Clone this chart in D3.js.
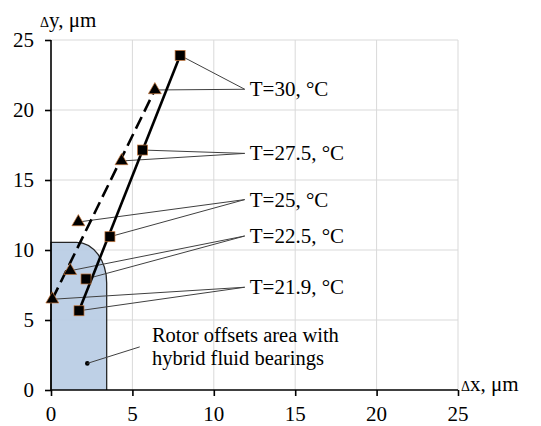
<!DOCTYPE html>
<html>
<head>
<meta charset="utf-8">
<script src="https://cdn.jsdelivr.net/npm/d3@7"></script>
<style>
  html, body { margin: 0; padding: 0; background: #fff; }
  svg { display: block; }
  text { font-family: "Liberation Serif", "Times New Roman", serif; fill: #000; }
</style>
</head>
<body>
<svg id="chart" width="541" height="426"></svg>
<script>
// ---- data ----
const xTicks = [0, 5, 10, 15, 20, 25];
const yTicks = [0, 5, 10, 15, 20, 25];

// series 1: squares, solid trend line
const sqX = [1.72, 2.15, 3.62, 5.62, 7.93];
const sqY = [5.66, 7.93, 10.95, 17.14, 23.9];
// series 2: triangles, dashed trend line
const triX = [0.08, 1.18, 1.68, 4.33, 6.38];
const triY = [6.48, 8.52, 12.0, 16.36, 21.43];

// temperature labels and which point index each one points to
const tempLabels = ["T=30, °C", "T=27.5, °C", "T=25, °C", "T=22.5, °C", "T=21.9, °C"];
const tempIndex = [4, 3, 2, 1, 0];
const labelX = 11.9;
const labelY = [21.48, 16.9, 13.6, 11.0, 7.34];

// rotor offsets area (rounded top-right corner)
const areaW = 3.42, areaH = 10.55, cornerW = 1.85, cornerH = 2.9;
const areaDot = [2.23, 1.9];
const areaLeaderEnd = [5.45, 3.08];
const areaText = ["Rotor offsets area with", "hybrid fluid bearings"];
const areaTextPos = [6.2, 3.45];

// ---- drawing ----
const svg = d3.select("#chart");
const x = d3.scaleLinear().domain([0, 25]).range([51, 458]);
const y = d3.scaleLinear().domain([0, 25]).range([390, 40]);
const FS = 21;

// grid
svg.append("g").selectAll("line").data(xTicks.filter(d => d > 0)).join("line")
  .attr("x1", d => x(d)).attr("x2", d => x(d)).attr("y1", y(0)).attr("y2", y(25))
  .attr("stroke", "#d9d9d9").attr("stroke-width", 1);
svg.append("g").selectAll("line").data(yTicks.filter(d => d > 0)).join("line")
  .attr("y1", d => y(d)).attr("y2", d => y(d)).attr("x1", x(0)).attr("x2", x(25))
  .attr("stroke", "#d9d9d9").attr("stroke-width", 1);

// rotor area
const rx = x(areaW) - x(areaW - cornerW), ry = y(areaH - cornerH) - y(areaH);
svg.append("path")
  .attr("d", `M${x(0)},${y(0)} L${x(0)},${y(areaH)} L${x(areaW - cornerW)},${y(areaH)} A${rx},${ry} 0 0 1 ${x(areaW)},${y(areaH - cornerH)} L${x(areaW)},${y(0)}`)
  .attr("fill", "#b8cce4").attr("fill-opacity", 0.92)
  .attr("stroke", "#262626").attr("stroke-width", 1.3);

// axes
const xAxis = d3.axisBottom(x).tickValues(xTicks).tickSize(6).tickFormat("");
const yAxis = d3.axisLeft(y).tickValues(yTicks).tickSize(6).tickFormat("");
const gx = svg.append("g").attr("transform", `translate(0,${y(0)})`).call(xAxis);
const gy = svg.append("g").attr("transform", `translate(${x(0)},0)`).call(yAxis);
gx.select(".domain").attr("stroke", "#000").attr("stroke-width", 1.6).attr("d", `M${x(0)},0H${x(25)}`);
gy.select(".domain").attr("stroke", "#000").attr("stroke-width", 1.6).attr("d", `M0,${y(0)}V${y(25)}`);
[gx, gy].forEach(g => g.selectAll(".tick line").attr("stroke", "#000").attr("stroke-width", 1.6));

// tick labels
svg.append("g").selectAll("text").data(xTicks).join("text")
  .attr("x", d => x(d)).attr("y", 421).attr("text-anchor", "middle")
  .attr("font-size", FS).text(d => d);
svg.append("g").selectAll("text").data(yTicks).join("text")
  .attr("x", 34).attr("y", d => y(d)).attr("dy", "0.35em").attr("text-anchor", "end")
  .attr("font-size", FS).text(d => d);

// axis titles
const yt = svg.append("text").attr("x", 40).attr("y", 27).attr("font-size", FS);
yt.append("tspan").attr("font-size", 14).text("Δ");
yt.append("tspan").text("y, μm");
const xt = svg.append("text").attr("x", 461).attr("y", 391).attr("font-size", FS);
xt.append("tspan").attr("font-size", 14).text("Δ");
xt.append("tspan").text("x, μm");

// leader lines for temperature labels
const leaders = svg.append("g").attr("stroke", "#404040").attr("stroke-width", 1).attr("fill", "none");
tempLabels.forEach((t, i) => {
  const k = tempIndex[i];
  leaders.append("line").attr("x1", x(labelX)).attr("y1", y(labelY[i]))
    .attr("x2", x(sqX[k])).attr("y2", y(sqY[k]));
  leaders.append("line").attr("x1", x(labelX)).attr("y1", y(labelY[i]))
    .attr("x2", x(triX[k])).attr("y2", y(triY[k]));
});
svg.append("g").selectAll("text").data(tempLabels).join("text")
  .attr("x", x(labelX) + 5).attr("y", (d, i) => y(labelY[i])).attr("dy", "0.33em")
  .attr("font-size", FS).text(d => d);

// trend lines (from first to last point)
const n = sqX.length;
svg.append("line")
  .attr("x1", x(sqX[0])).attr("y1", y(sqY[0])).attr("x2", x(sqX[n - 1])).attr("y2", y(sqY[n - 1]))
  .attr("stroke", "#000").attr("stroke-width", 2.6);
const m = triX.length;
svg.append("line")
  .attr("x1", x(triX[0])).attr("y1", y(triY[0])).attr("x2", x(triX[m - 1])).attr("y2", y(triY[m - 1]))
  .attr("stroke", "#000").attr("stroke-width", 2.6).attr("stroke-dasharray", "13,6");

// markers
svg.append("g").selectAll("rect").data(sqX).join("rect")
  .attr("x", d => x(d) - 5).attr("y", (d, i) => y(sqY[i]) - 5)
  .attr("width", 10).attr("height", 10)
  .attr("fill", "#000").attr("stroke", "#c8773a").attr("stroke-width", 0.7);
const tri = d3.symbol().type(d3.symbolTriangle).size(72);
svg.append("g").selectAll("path").data(triX).join("path")
  .attr("transform", (d, i) => `translate(${x(d)},${y(triY[i])})`)
  .attr("d", tri)
  .attr("fill", "#000").attr("stroke", "#c8773a").attr("stroke-width", 0.7);

// rotor area annotation
svg.append("circle").attr("cx", x(areaDot[0])).attr("cy", y(areaDot[1])).attr("r", 2.3).attr("fill", "#000");
svg.append("line").attr("x1", x(areaDot[0])).attr("y1", y(areaDot[1]))
  .attr("x2", x(areaLeaderEnd[0])).attr("y2", y(areaLeaderEnd[1]))
  .attr("stroke", "#404040").attr("stroke-width", 1);
svg.append("g").selectAll("text").data(areaText).join("text")
  .attr("x", x(areaTextPos[0])).attr("y", (d, i) => y(areaTextPos[1]) + i * 23)
  .attr("font-size", 20.5).text(d => d);
</script>
</body>
</html>
